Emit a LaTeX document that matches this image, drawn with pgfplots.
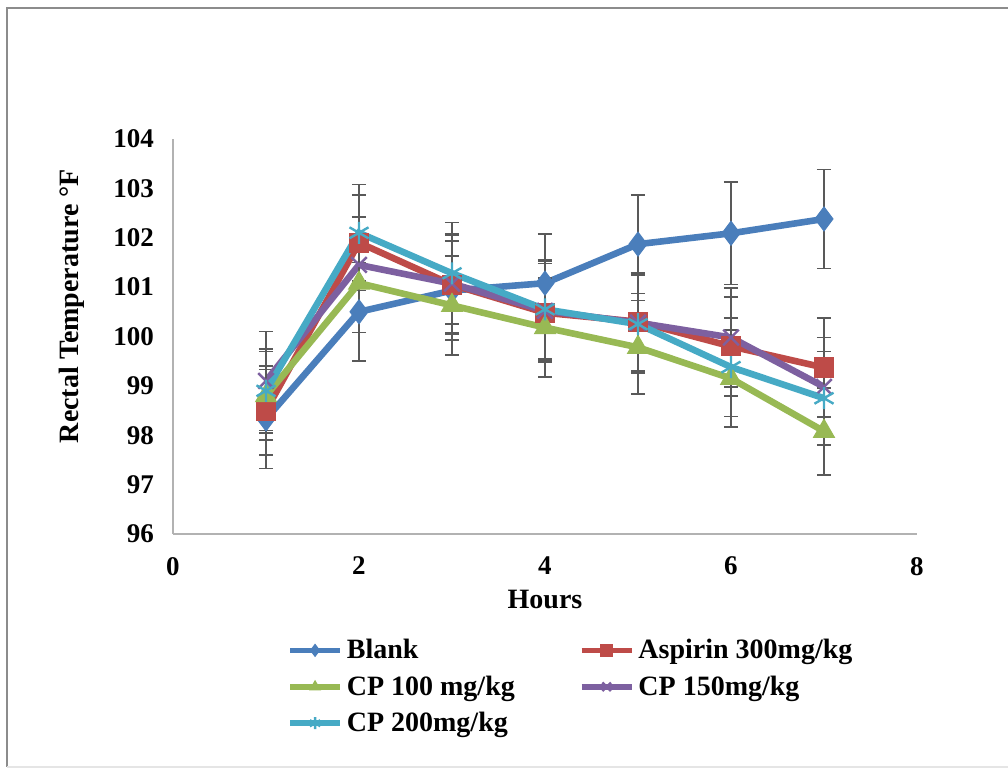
\documentclass[border=0pt]{standalone}
\usepackage{pgfplots}
\pgfplotsset{compat=1.18}
\usepackage{fontspec}
\setmainfont{Liberation Serif}
\definecolor{cblank}{HTML}{4A7EBB}
\definecolor{casp}{HTML}{BE4B48}
\definecolor{ccpa}{HTML}{98B954}
\definecolor{ccpb}{HTML}{7D60A0}
\definecolor{ccpc}{HTML}{46AAC5}
\begin{document}
\begin{tikzpicture}
\path[use as bounding box] (-86.5pt,-117.5pt) rectangle (417.5pt,267pt);
\draw[black!45, line width=1.4pt] (-83pt,-116.5pt) -- (-83pt,263pt) -- (417.5pt,263pt);
\draw[black!10, line width=1pt] (-83pt,-116.5pt) -- (417.5pt,-116.5pt);
\begin{axis}[
  at={(0pt,0pt)}, anchor=south west,
  scale only axis, width=372pt, height=197.5pt,
  xmin=0, xmax=8, ymin=96, ymax=104,
  xtick={0,2,4,6,8}, ytick={96,97,...,104},
  axis x line=bottom, axis y line=left,
  axis line style={-, black!30, line width=1pt},
  major tick length=0pt,
  /pgf/number format/assume math mode=true,
  tick label style={font=\fontsize{13.5}{15}\selectfont\bfseries, black},
  yticklabel style={xshift=-6pt},
  xticklabel style={yshift=-8pt},
  xlabel={Hours}, ylabel={Rectal Temperature °F},
  label style={font=\fontsize{14}{16}\selectfont\bfseries},
  xlabel style={at={(axis description cs:0.5,-0.167)}, anchor=center},
  ylabel style={at={(axis description cs:-0.136,0.577)}, anchor=center},
  every axis plot/.append style={line width=3.3pt},
  error bars/error bar style={line width=0.8pt, black!65, solid},
  error bars/error mark options={rotate=90, line width=0.8pt, black!65, mark size=3.5pt, solid},
  legend columns=2,
  legend cell align=left,
  legend style={draw=none, fill=none, at={(0.145,-0.245)}, anchor=north west,
    font=\fontsize{14}{16}\selectfont\bfseries,
    /tikz/every even column/.append style={column sep=30pt},
    row sep=3pt},
  legend image code/.code={\draw[mark repeat=2, mark phase=2, line width=2.8pt, mark size=3pt] plot coordinates {(0pt,0pt) (12.5pt,0pt) (25pt,0pt)};},
]
\addplot[color=cblank, mark=diamond*, mark size=6pt, mark options={fill=cblank, line width=0.5pt},
  error bars/.cd, y dir=both, y explicit] table[x=x, y=y, y error=e] {
x y e
1 98.33 1.0
2 100.50 1.0
3 100.93 1.0
4 101.08 1.0
5 101.87 1.0
6 102.09 1.04
7 102.38 1.0
};
\addlegendentry{Blank}
\addplot[color=casp, mark=square*, mark size=4.8pt, mark options={fill=casp, line width=0.5pt},
  error bars/.cd, y dir=both, y explicit] table[x=x, y=y, y error=e] {
x y e
1 98.50 0.9
2 101.90 0.97
3 101.05 1.0
4 100.48 1.0
5 100.30 1.0
6 99.80 1.0
7 99.37 1.0
};
\addlegendentry{Aspirin 300mg/kg}
\addplot[color=ccpa, mark=triangle*, mark size=6pt, mark options={fill=ccpa, line width=0.5pt},
  error bars/.cd, y dir=both, y explicit] table[x=x, y=y, y error=e] {
x y e
1 98.80 0.9
2 101.08 1.0
3 100.63 1.0
4 100.18 1.0
5 99.78 0.95
6 99.15 0.98
7 98.08 0.88
};
\addlegendentry{CP 100 mg/kg}
\addplot[color=ccpb, mark=x, mark size=5.5pt, mark options={line width=1.2pt},
  error bars/.cd, y dir=both, y explicit] table[x=x, y=y, y error=e] {
x y e
1 99.10 1.0
2 101.45 0.97
3 101.07 1.0
4 100.52 1.0
5 100.28 1.0
6 99.98 1.0
7 98.98 1.0
};
\addlegendentry{CP 150mg/kg}
\addplot[color=ccpc, mark=asterisk, mark size=5.5pt, mark options={line width=1.2pt},
  error bars/.cd, y dir=both, y explicit] table[x=x, y=y, y error=e] {
x y e
1 98.90 0.85
2 102.10 0.98
3 101.28 1.03
4 100.55 1.0
5 100.25 1.0
6 99.38 1.0
7 98.75 0.95
};
\addlegendentry{CP 200mg/kg}
\end{axis}
\end{tikzpicture}
\end{document}
